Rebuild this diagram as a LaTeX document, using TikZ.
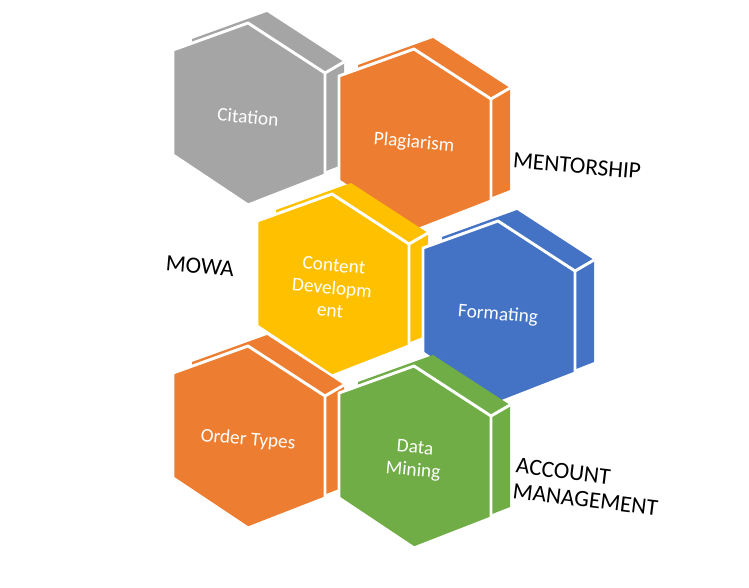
\documentclass[tikz,border=0pt]{standalone}
\usepackage{fontspec}
\setmainfont{Carlito}
\definecolor{cgray}{HTML}{A5A5A5}
\definecolor{corange}{HTML}{ED7D31}
\definecolor{cyellow}{HTML}{FFC000}
\definecolor{cblue}{HTML}{4472C4}
\definecolor{cgreen}{HTML}{70AD47}
\tikzset{
  hexback/.style={line width=0pt},
  hexfront/.style={draw=white,line width=2.2pt,line join=round},
  hexedge/.style={draw=white,line width=2.2pt},
  hextext/.style={text=white,font=\fontsize{14.5}{17}\selectfont,align=center,rotate=-5,inner sep=1pt},
  label/.style={text=black,font=\fontsize{17.5}{19}\selectfont,align=left,rotate=-5,inner sep=1pt}
}
\newcommand\hexcell[5]{%
  \begin{scope}[shift={(#1,#2)}]
    \fill[#3,hexback] (-56,-76) -- (19,-103) -- (96,-53) -- (96,49) -- (19,79) -- (-56,29) -- cycle;
    \filldraw[fill=#3,hexfront] (-75,-65) -- (0,-92) -- (77,-42) -- (77,60) -- (0,90) -- (-75,40) -- cycle;
    \draw[hexedge] (77,-42) -- (96,-53);
    \node[hextext] (#4) at (0,2) {#5};
  \end{scope}}
\begin{document}
\begin{tikzpicture}[x=0.75pt,y=-0.75pt]
\useasboundingbox (0,0) rectangle (749,588);
\hexcell{248}{115}{cgray}{cit}{Citation}
\hexcell{414}{141}{corange}{pla}{Plagiarism}
\hexcell{332}{286}{cyellow}{con}{Content\\Developm\\ent}
\hexcell{498}{313}{cblue}{for}{Formating}
\hexcell{248}{438}{corange}{ord}{Order Types}
\hexcell{414}{458}{cgreen}{dat}{Data\\Mining}
\node[label] (mowa) at (200,266) {MOWA};
\node[label] (men) at (577,166) {MENTORSHIP};
\node[label,rotate=-2] (acc) at (587,487) {ACCOUNT\\MANAGEMENT};
\end{tikzpicture}
\end{document}
